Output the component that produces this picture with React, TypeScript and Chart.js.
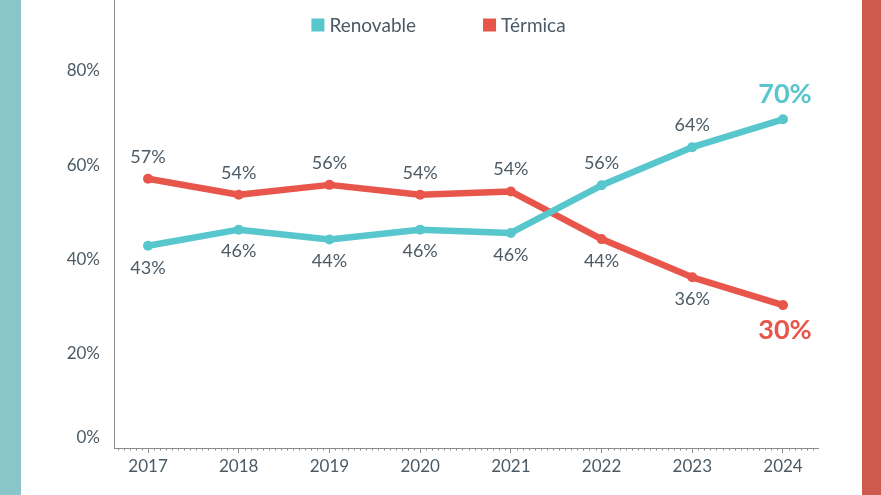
import React, { useEffect, useRef } from "react";
import { Chart, registerables } from "chart.js";

Chart.register(...registerables);

const years = [2017, 2018, 2019, 2020, 2021, 2022, 2023, 2024];
const renovable = [42.9, 46.3, 44.2, 46.3, 45.6, 55.7, 63.8, 69.7];
const termica = [57.1, 53.7, 55.8, 53.7, 54.4, 44.3, 36.2, 30.3];
const renovableLabelSide = ["below", "below", "below", "below", "below", "above", "above", "above"];
const termicaLabelSide = ["above", "above", "above", "above", "above", "below", "below", "below"];
const yTicks = [0, 20, 40, 60, 80];

const TEAL = "#57c6cd";
const RED = "#e8554a";
const TEXT = "#4b5a64";
const AXIS = "#8c8c8c";
const FONT = "Lato, 'Open Sans', sans-serif";

const legendPlugin = {
  id: "customLegend",
  afterDraw(chart: any) {
    const ctx = chart.ctx;
    const ds = chart.data.datasets;
    ctx.save();
    ctx.font = `19px ${FONT}`;
    const box = 13;
    const gap = 5;
    const itemGap = 67;
    const widths = ds.map((d: any) => box + gap + ctx.measureText(d.label).width);
    const total = widths.reduce((a: number, b: number) => a + b, 0) + itemGap * (ds.length - 1);
    let x = chart.width / 2 - 2 - total / 2;
    const y = 25;
    ds.forEach((d: any, i: number) => {
      ctx.fillStyle = d.borderColor;
      ctx.fillRect(x, y - box / 2, box, box);
      ctx.fillStyle = TEXT;
      ctx.textBaseline = "middle";
      ctx.textAlign = "left";
      ctx.fillText(d.label, x + box + gap, y + 1);
      x += widths[i] + itemGap;
    });
    ctx.restore();
  },
};

const minorTicksPlugin = {
  id: "minorTicks",
  afterDraw(chart: any) {
    const xs = chart.scales.x;
    const ctx = chart.ctx;
    const y0 = chart.chartArea.bottom;
    ctx.save();
    ctx.strokeStyle = AXIS;
    ctx.lineWidth = 1;
    const step = 1 / 15;
    const start = Math.ceil(xs.min / step);
    const end = Math.floor(xs.max / step);
    for (let k = start; k <= end; k++) {
      const v = k * step;
      if (Math.abs(v - Math.round(v)) < 1e-6) continue;
      const px = Math.round(xs.getPixelForValue(v)) + 0.5;
      ctx.beginPath();
      ctx.moveTo(px, y0);
      ctx.lineTo(px, y0 + 2.5);
      ctx.stroke();
    }
    ctx.restore();
  },
};

const labelsPlugin = {
  id: "pointLabels",
  afterDatasetsDraw(chart: any) {
    const ctx = chart.ctx;
    const sides = [renovableLabelSide, termicaLabelSide];
    const values = [renovable, termica];
    ctx.save();
    ctx.textAlign = "center";
    ctx.textBaseline = "middle";
    chart.data.datasets.forEach((d: any, i: number) => {
      const meta = chart.getDatasetMeta(i);
      meta.data.forEach((pt: any, j: number) => {
        const last = j === meta.data.length - 1;
        const above = sides[i][j] === "above";
        if (last) {
          ctx.font = `bold 27px ${FONT}`;
          ctx.fillStyle = d.borderColor;
        } else {
          ctx.font = `18px ${FONT}`;
          ctx.fillStyle = TEXT;
        }
        const off = last ? 25 : 22;
        ctx.fillText(`${Math.round(values[i][j])}%`, pt.x + (last ? 2 : 0), above ? pt.y - off : pt.y + off);
      });
    });
    ctx.restore();
  },
};

export default function App() {
  const ref = useRef<HTMLCanvasElement>(null);
  useEffect(() => {
    if (!ref.current) return;
    const chart = new Chart(ref.current, {
      type: "line",
      data: {
        datasets: [
          {
            label: "Renovable",
            data: years.map((y, i) => ({ x: y, y: renovable[i] })),
            borderColor: TEAL,
            backgroundColor: TEAL,
            pointBackgroundColor: TEAL,
            borderWidth: 6.5,
            pointRadius: 5,
            pointBorderWidth: 0,
            borderCapStyle: "round",
            borderJoinStyle: "round",
            tension: 0,
          },
          {
            label: "Térmica",
            data: years.map((y, i) => ({ x: y, y: termica[i] })),
            borderColor: RED,
            backgroundColor: RED,
            pointBackgroundColor: RED,
            borderWidth: 6.5,
            pointRadius: 5,
            pointBorderWidth: 0,
            borderCapStyle: "round",
            borderJoinStyle: "round",
            tension: 0,
          },
        ],
      },
      options: {
        animation: false,
        responsive: false,
        devicePixelRatio: 1,
        layout: { autoPadding: false, padding: { left: 0, right: 63, top: 0, bottom: 0 } },
        plugins: {
          legend: { display: false },
          tooltip: { enabled: false },
        },
        scales: {
          x: {
            type: "linear",
            min: 2016.625,
            max: 2024.386,
            afterFit: (s: any) => {
              s.height = 47;
              s.paddingLeft = 0;
              s.paddingRight = 0;
            },
            ticks: {
              stepSize: 1,
              includeBounds: false,
              color: TEXT,
              font: { family: FONT, size: 17 },
              padding: 3,
              maxRotation: 0,
              callback: (v: any) => String(v),
            },
            grid: { drawOnChartArea: false, tickLength: 5, color: AXIS },
            border: { color: AXIS, width: 1 },
          },
          y: {
            min: 0,
            max: 95,
            afterFit: (s: any) => {
              s.width = 114;
              s.paddingTop = 0;
              s.paddingBottom = 0;
            },
            afterBuildTicks: (s: any) => {
              s.ticks = yTicks.map((v) => ({ value: v }));
            },
            ticks: {
              color: TEXT,
              font: { family: FONT, size: 17 },
              padding: 6,
              callback: (v: any) => (v === 0 ? ["0%", ""] : `${v}%`),
            },
            grid: { display: false },
            border: { color: AXIS, width: 1 },
          },
        },
      },
      plugins: [minorTicksPlugin, labelsPlugin, legendPlugin],
    } as any);
    return () => chart.destroy();
  }, []);

  return (
    <div style={{ position: "fixed", left: 0, top: 0, width: 881, height: 495, background: "#fff", overflow: "hidden" }}>
      <div style={{ position: "absolute", left: 0, top: 0, width: 21, height: 495, background: "#88c6c9" }} />
      <div style={{ position: "absolute", left: 862, top: 0, width: 19, height: 495, background: "#cd5a4c" }} />
      <canvas ref={ref} width={881} height={495} style={{ position: "absolute", left: 0, top: 0, width: 881, height: 495 }} />
    </div>
  );
}
